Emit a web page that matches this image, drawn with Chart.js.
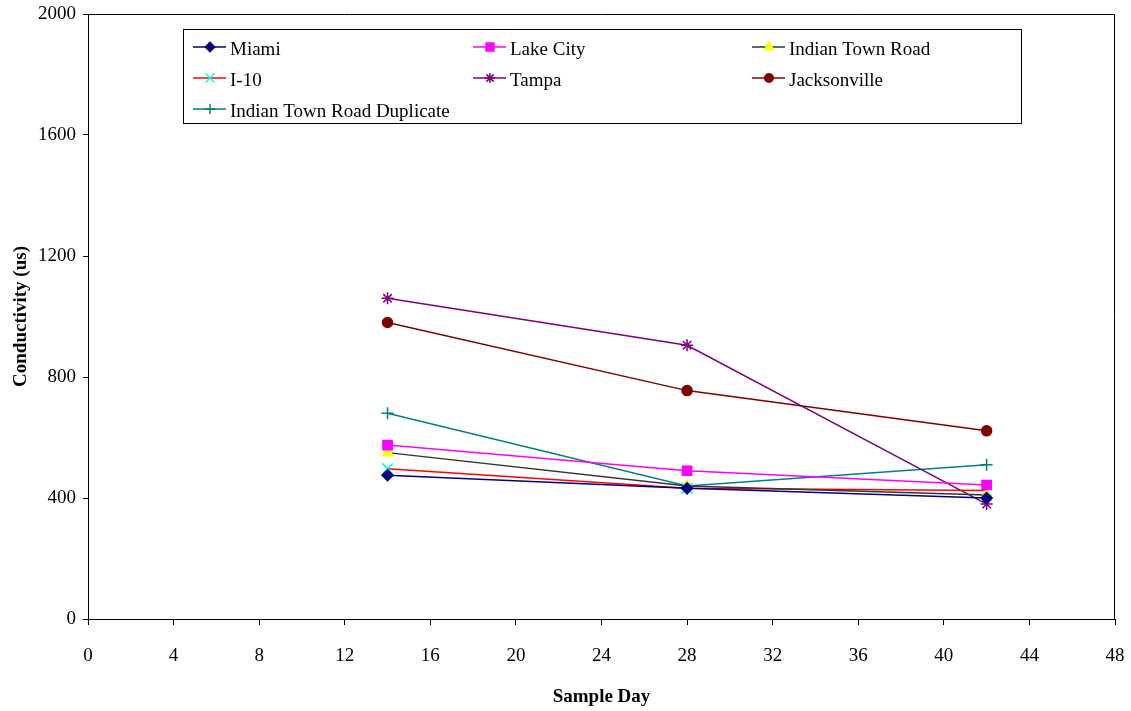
<!DOCTYPE html>
<html>
<head>
<meta charset="utf-8">
<script src="https://cdn.jsdelivr.net/npm/chart.js@4/dist/chart.umd.min.js"></script>
<style>
  html, body { margin: 0; padding: 0; background: #ffffff; }
  #wrap { width: 1131px; height: 711px; }
</style>
</head>
<body>
<div id="wrap"><canvas id="c" width="1131" height="711"></canvas></div>
<script>
// ---- Data ----
const sampleDays = [14, 28, 42];
const miami = [475, 432, 400];
const lakeCity = [575, 490, 443];
const indianTownRoad = [550, 440, 410];
const i10 = [497, 432, 425];
const tampa = [1060, 905, 380];
const jacksonville = [980, 755, 622];
const indianTownRoadDup = [680, 440, 510];

const seriesNames = ['Miami', 'Lake City', 'Indian Town Road', 'I-10', 'Tampa', 'Jacksonville', 'Indian Town Road Duplicate'];
const xTicks = [0, 4, 8, 12, 16, 20, 24, 28, 32, 36, 40, 44, 48];
const yTicks = [0, 400, 800, 1200, 1600, 2000];

const FONT = "'Liberation Serif', 'Times New Roman', serif";

function pts(vals) { return sampleDays.map((d, i) => ({ x: d, y: vals[i] })); }

const styles = [
  { line: '#000080', fill: '#000080', stroke: '#000080', ps: 'rectRot', r: 5.5 },
  { line: '#FF00FF', fill: '#FF00FF', stroke: '#FF00FF', ps: 'rect', r: 6.5 },
  { line: '#333333', fill: '#FFFF00', stroke: '#FFFF00', ps: 'triangle', r: 6 },
  { line: '#FF0000', fill: '#00FFFF', stroke: '#00FFFF', ps: 'crossRot', r: 7.5 },
  { line: '#800080', fill: '#800080', stroke: '#800080', ps: 'star', r: 6 },
  { line: '#800000', fill: '#800000', stroke: '#800000', ps: 'circle', r: 5 },
  { line: '#008080', fill: '#008080', stroke: '#008080', ps: 'cross', r: 6 }
];
const seriesValues = [miami, lakeCity, indianTownRoad, i10, tampa, jacksonville, indianTownRoadDup];

const datasets = seriesNames.map((name, i) => ({
  label: name,
  data: pts(seriesValues[i]),
  borderColor: styles[i].line,
  backgroundColor: styles[i].fill,
  pointBackgroundColor: styles[i].fill,
  pointBorderColor: styles[i].stroke,
  pointBorderWidth: 1.5,
  pointStyle: styles[i].ps,
  pointRadius: styles[i].r,
  pointHoverRadius: styles[i].r,
  borderWidth: 1.5,
  tension: 0,
  fill: false,
  showLine: true
}));

// custom legend box + plot frame
const customLegend = {
  id: 'customLegend',
  afterDraw(chart) {
    const ctx = chart.ctx;
    const ca = chart.chartArea;
    ctx.save();
    ctx.strokeStyle = '#000000';
    ctx.lineWidth = 1;
    ctx.beginPath();
    ctx.moveTo(ca.left, ca.top + 0.5);
    ctx.lineTo(ca.right - 0.5, ca.top + 0.5);
    ctx.lineTo(ca.right - 0.5, ca.bottom);
    ctx.stroke();

    const bx = 183.5, by = 29.5, bw = 838, bh = 94;
    ctx.fillStyle = '#ffffff';
    ctx.fillRect(bx, by, bw, bh);
    ctx.strokeStyle = '#000000';
    ctx.lineWidth = 1;
    ctx.strokeRect(bx, by, bw, bh);

    const colX = [230, 510, 789];
    const rowY = [47, 78, 109];
    ctx.font = "19px " + FONT;
    ctx.textBaseline = 'middle';
    ctx.textAlign = 'left';
    chart.data.datasets.forEach((ds, i) => {
      const col = i % 3, row = Math.floor(i / 3);
      const tx = colX[col], y = rowY[row];
      ctx.strokeStyle = ds.borderColor;
      ctx.lineWidth = 1.5;
      ctx.beginPath();
      ctx.moveTo(tx - 37, y);
      ctx.lineTo(tx - 4, y);
      ctx.stroke();
      ctx.fillStyle = ds.pointBackgroundColor;
      ctx.strokeStyle = ds.pointBorderColor;
      ctx.lineWidth = 1.5;
      Chart.helpers.drawPoint(ctx, { pointStyle: ds.pointStyle, radius: ds.pointRadius * 0.85, rotation: 0, borderWidth: 1.5 }, tx - 20, y);
      ctx.fillStyle = '#000000';
      ctx.fillText(ds.label, tx, y + 3);
    });
    ctx.restore();
  }
};

function zeroPad(scale) {
  scale.paddingLeft = 0; scale.paddingRight = 0; scale.paddingTop = 0; scale.paddingBottom = 0;
}

new Chart(document.getElementById('c'), {
  type: 'line',
  data: { datasets },
  options: {
    responsive: false,
    animation: false,
    devicePixelRatio: 1,
    layout: { padding: { top: 14, right: 16, left: 0, bottom: 0 } },
    plugins: { legend: { display: false }, tooltip: { enabled: false } },
    scales: {
      x: {
        type: 'linear',
        min: 0, max: 48,
        afterBuildTicks(scale) { scale.ticks = xTicks.map(v => ({ value: v })); },
        afterFit(scale) { scale.height = 92; zeroPad(scale); },
        ticks: { color: '#000000', font: { family: FONT, size: 19 }, padding: 20, maxRotation: 0, autoSkip: false, callback: v => String(v) },
        grid: { display: true, drawOnChartArea: false, drawTicks: true, tickLength: 6, color: '#000000', lineWidth: 1 },
        border: { display: true, color: '#000000', width: 1 },
        title: { display: true, text: 'Sample Day', color: '#000000', font: { family: FONT, size: 19, weight: 'bold' }, padding: { top: 0, bottom: 3 } }
      },
      y: {
        type: 'linear',
        min: 0, max: 2000,
        afterBuildTicks(scale) { scale.ticks = yTicks.map(v => ({ value: v })); },
        afterFit(scale) { scale.width = 88; zeroPad(scale); },
        ticks: { color: '#000000', font: { family: FONT, size: 19 }, padding: 7, autoSkip: false, callback: v => String(v) },
        grid: { display: true, drawOnChartArea: false, drawTicks: true, tickLength: 5, color: '#000000', lineWidth: 1 },
        border: { display: true, color: '#000000', width: 1 },
        title: { display: true, text: 'Conductivity (us)', color: '#000000', font: { family: FONT, size: 19, weight: 'bold' }, padding: { top: 10, bottom: 0 } }
      }
    }
  },
  plugins: [customLegend]
});
</script>
</body>
</html>
